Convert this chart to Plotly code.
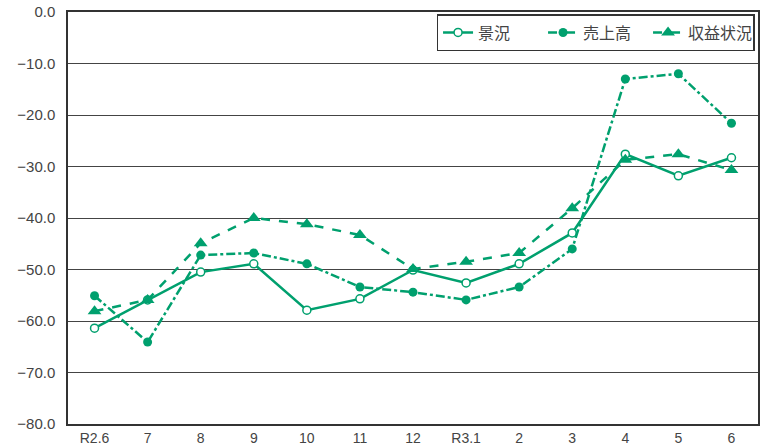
import plotly.graph_objects as go

categories = ["R2.6", "7", "8", "9", "10", "11", "12", "R3.1", "2", "3", "4", "5", "6"]
keikyo = [-61.4, -55.9, -50.5, -48.9, -57.9, -55.7, -50.1, -52.6, -48.9, -42.9, -27.6, -31.8, -28.3]
uriage = [-55.1, -64.1, -47.2, -46.8, -48.9, -53.4, -54.4, -55.9, -53.4, -46.0, -13.0, -12.0, -21.6]
shueki = [-58.1, -55.9, -44.9, -40.0, -41.2, -43.3, -49.9, -48.5, -46.8, -38.1, -28.7, -27.6, -30.7]
y_ticks = [0, -10, -20, -30, -40, -50, -60, -70, -80]
y_tick_labels = ["0.0", "−10.0", "−20.0", "−30.0", "−40.0", "−50.0", "−60.0", "−70.0", "−80.0"]

green = "#00a06e"
font = "Noto Sans CJK JP, Noto Sans, sans-serif"
num_font = "Liberation Sans, Arial, sans-serif"

fig = go.Figure()
fig.add_trace(go.Scatter(
    x=categories, y=keikyo, name="景況", mode="lines+markers",
    line=dict(color=green, width=2.5, dash="solid"),
    marker=dict(symbol="circle", size=8, color="white", line=dict(color=green, width=1.5)),
))
fig.add_trace(go.Scatter(
    x=categories, y=uriage, name="売上高", mode="lines+markers",
    line=dict(color=green, width=2.5, dash="dashdot"),
    marker=dict(symbol="circle", size=9, color=green),
))
fig.add_trace(go.Scatter(
    x=categories, y=shueki, name="収益状況", mode="lines+markers",
    line=dict(color=green, width=2.5, dash="dash"),
    marker=dict(symbol="triangle-up", size=12, color=green),
))

fig.update_layout(
    width=760, height=446,
    margin=dict(l=68, r=2, t=12, b=22, autoexpand=False),
    paper_bgcolor="white", plot_bgcolor="white",
    font=dict(family=font, size=13, color="#444444"),
    showlegend=True,
    legend=dict(
        orientation="h", x=0.995, y=0.995, xanchor="right", yanchor="top",
        bordercolor="#333333", borderwidth=1.5, bgcolor="white",
        font=dict(size=16, color="#444444"),
        tracegroupgap=0, entrywidth=60, entrywidthmode="pixels",
    ),
    xaxis=dict(
        type="category", categoryorder="array", categoryarray=categories,
        range=[-0.5, len(categories) - 0.5], automargin=False,
        showgrid=False, showline=True, linecolor="#333333", linewidth=1.5, mirror=True,
        ticks="", tickfont=dict(family=num_font, size=14), ticklabelstandoff=0,
    ),
    yaxis=dict(
        range=[-80, 0], tickvals=y_ticks, ticktext=y_tick_labels, automargin=False,
        showgrid=True, gridcolor="#444444", gridwidth=1,
        showline=True, linecolor="#333333", linewidth=1.5, mirror=True,
        ticks="", tickfont=dict(family=num_font, size=15), zeroline=False, ticklabelstandoff=8,
    ),
)

fig.write_html(
    "out.html",
    config={"displayModeBar": False},
    post_script="document.body.style.margin='0';",
)
